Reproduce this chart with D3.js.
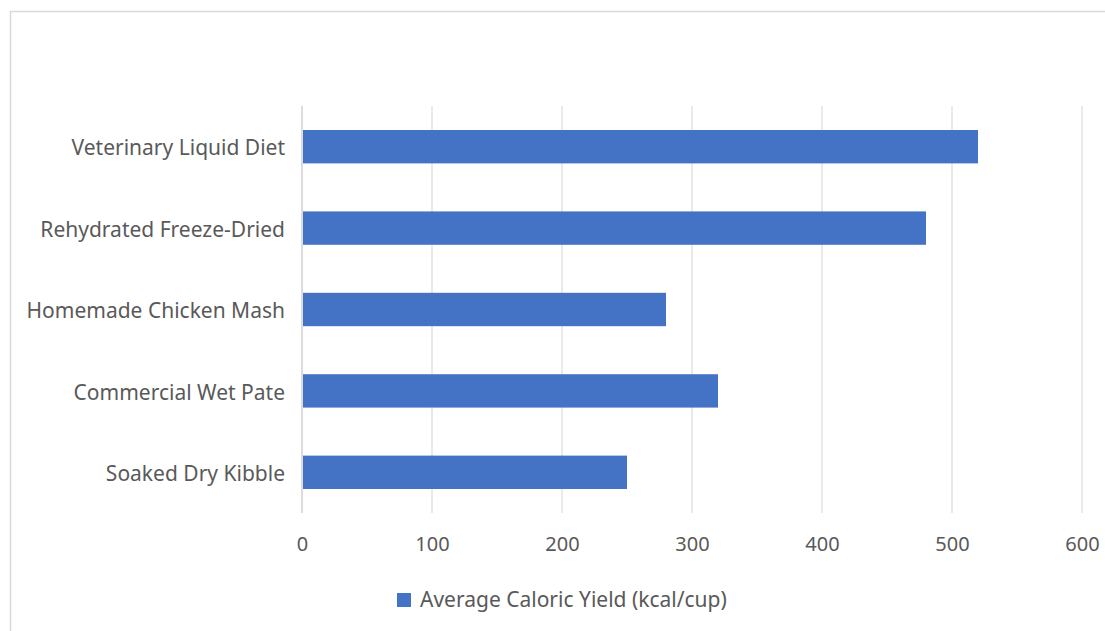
<!DOCTYPE html>
<html>
<head>
<meta charset="utf-8">
<script src="https://cdn.jsdelivr.net/npm/d3@7"></script>
<style>
  body { margin: 0; background: #fff; }
  svg { display: block; font-family: "Noto Sans", "Open Sans", sans-serif; }
</style>
</head>
<body>
<div id="chart"></div>
<script>
(() => {
    // Data (top to bottom as shown)
    const categories = ["Veterinary Liquid Diet", "Rehydrated Freeze-Dried", "Homemade Chicken Mash", "Commercial Wet Pate", "Soaked Dry Kibble"];
    const caloricYield = [520, 480, 280, 320, 250];
    const xTicks = [0, 100, 200, 300, 400, 500, 600];
    const seriesName = "Average Caloric Yield (kcal/cup)";

    const W = 1105, H = 631;
    const plot = { left: 302, right: 1082, top: 106, bottom: 513 };
    const fontFamily = "'Noto Sans', 'Open Sans', sans-serif";

    const svg = d3.select("#chart")
        .append("svg")
        .attr("width", W)
        .attr("height", H);

    // Chart border (runs off right and bottom edges)
    svg.append("rect")
        .attr("x", 10.5)
        .attr("y", 11.5)
        .attr("width", W + 20)
        .attr("height", H + 20)
        .attr("fill", "#fff")
        .attr("stroke", "#d9d9d9")
        .attr("stroke-width", 1.5);

    const xScale = d3.scaleLinear()
        .domain([0, 600])
        .range([plot.left, plot.right]);

    const yScale = d3.scaleBand()
        .domain(categories)
        .range([plot.top, plot.bottom])
        .paddingInner(0.59)
        .paddingOuter(0.295);

    // Gridlines
    svg.append("g")
        .selectAll("line")
        .data(xTicks)
        .enter().append("line")
        .attr("x1", d => xScale(d))
        .attr("x2", d => xScale(d))
        .attr("y1", plot.top)
        .attr("y2", plot.bottom)
        .attr("stroke", d => d === 0 ? "#d0d0d0" : "#e3e3e3")
        .attr("stroke-width", 1.5);

    // Bars
    svg.append("g")
        .selectAll("rect")
        .data(categories)
        .enter().append("rect")
        .attr("x", xScale(0) + 1)
        .attr("y", d => yScale(d))
        .attr("width", (d, i) => xScale(caloricYield[i]) - xScale(0) - 1)
        .attr("height", yScale.bandwidth())
        .attr("fill", "#4472c4");

    // Category labels
    const yAxis = svg.append("g")
        .attr("transform", `translate(${plot.left},0)`)
        .call(d3.axisLeft(yScale).tickSize(0).tickPadding(17))
        .attr("font-family", fontFamily)
        .attr("font-size", 21);
    yAxis.select(".domain").remove();
    yAxis.selectAll("text")
        .attr("dy", "0.41em")
        .attr("fill", "#595959");

    // Value axis labels
    const xAxis = svg.append("g")
        .attr("transform", `translate(0,${plot.bottom})`)
        .call(d3.axisBottom(xScale).tickValues(xTicks).tickSize(0).tickPadding(24))
        .attr("font-family", fontFamily)
        .attr("font-size", 20);
    xAxis.select(".domain").remove();
    xAxis.selectAll("text")
        .attr("fill", "#595959");

    // Legend
    const legend = svg.append("g")
        .attr("transform", "translate(397,593)");

    legend.append("rect")
        .attr("x", 0)
        .attr("y", 0)
        .attr("width", 14)
        .attr("height", 14)
        .attr("fill", "#4472c4");

    legend.append("text")
        .attr("x", 23)
        .attr("y", 7)
        .attr("dy", "0.35em")
        .attr("fill", "#595959")
        .style("font-size", "21px")
        .text(seriesName);
})();
</script>
</body>
</html>
